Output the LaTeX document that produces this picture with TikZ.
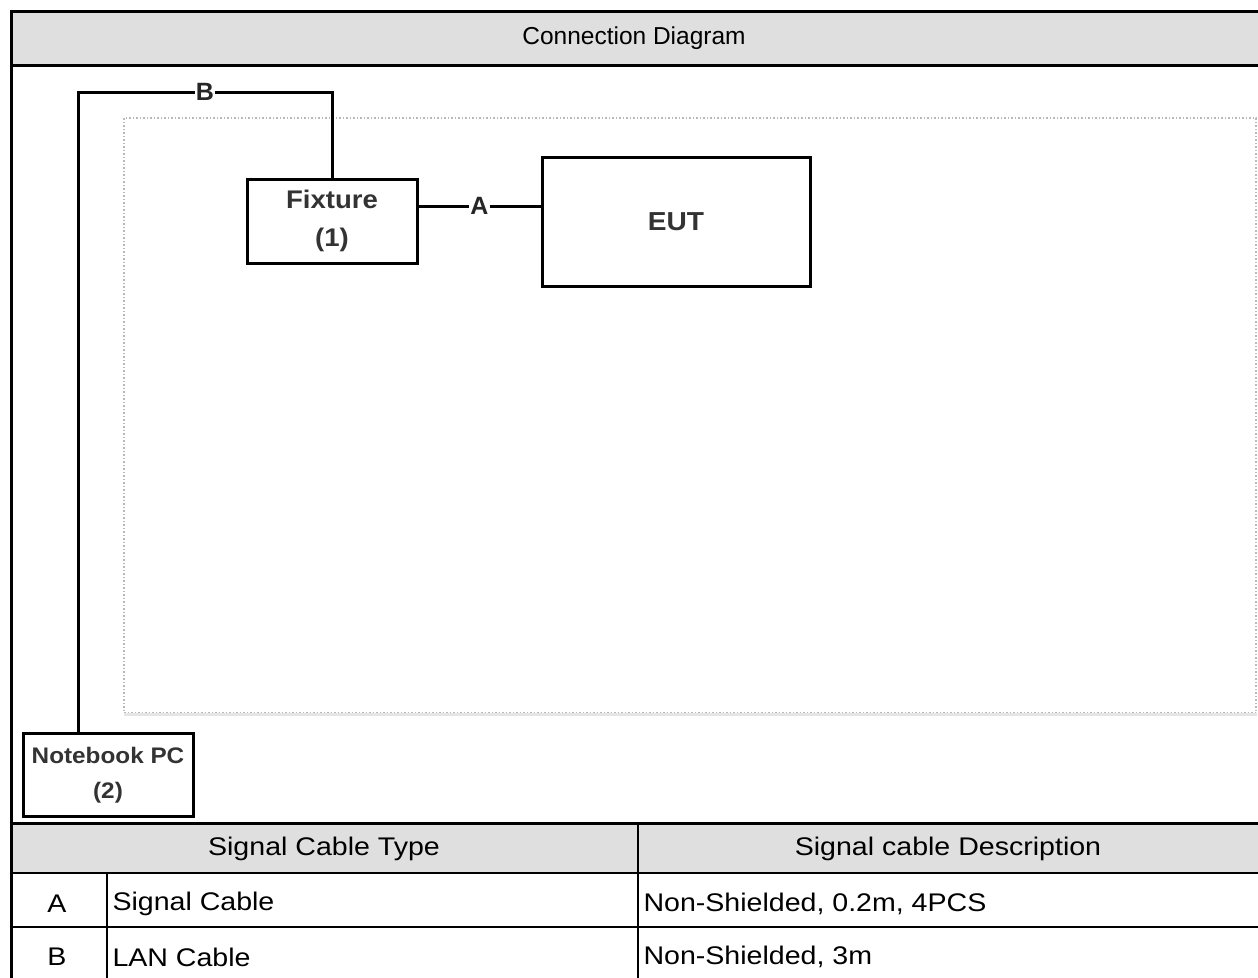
\documentclass[tikz,border=0pt]{standalone}
\usepackage{fontspec}
\setmainfont{Liberation Sans}
\newfontfamily\unitfont[FakeStretch=1.08]{Liberation Sans}
\newfontfamily\cellfont[FakeStretch=1.12]{Liberation Sans}
\definecolor{headgray}{HTML}{DFDFDF}
\begin{document}
\begin{tikzpicture}[x=1pt,y=-1pt,line width=3pt]
\tikzstyle{unit}=[draw, rectangle, fill=white, align=center, text=black!80, font=\unitfont\fontsize{25.5}{38}\selectfont\bfseries]
\tikzstyle{cable}=[fill=white, inner sep=1pt, text=black!85, font=\fontsize{25}{30}\selectfont\bfseries]
\tikzstyle{cell}=[inner sep=4pt, font=\cellfont\fontsize{25.5}{30}\selectfont]
\useasboundingbox (0,0) rectangle (1258,977);

% frame and shaded rows
\fill[headgray] (11,11) rectangle (1262,65);
\fill[headgray] (11,823) rectangle (1262,873);
\draw (1262,11) -- (11,11) -- (11,981);
\draw (11,65) -- (1262,65);
\draw (11,823) -- (1262,823);
\node[font=\fontsize{24.5}{29}\selectfont] (title) at (634,38) {Connection Diagram};

% test area
\draw[gray!55, dotted, line width=1.5pt] (124,118) rectangle (1256,713);
\draw[gray!20] (124,714) -- (1257,714);

\node[unit, minimum width=170, minimum height=84] (fixture) at (332,221) {Fixture\\(1)};
\node[unit, minimum width=268, minimum height=129] (eut) at (676,221.5) {\fontsize{26}{34}\selectfont EUT};
\node[unit, minimum width=170, minimum height=83, font=\unitfont\fontsize{22.5}{35}\selectfont\bfseries] (notebook) at (108,775) {Notebook PC\\(2)};

\coordinate (bcorner) at (78,92);
\draw (fixture.north) |- node[cable, pos=0.75] {B} (bcorner) -- (bcorner |- notebook.north);
\draw ([yshift=15pt]fixture.east) -- node[cable] {A} ([yshift=15pt]fixture.east -| eut.west);

% cable table
\draw[line width=2.5pt] (11,873) -- (1262,873);
\draw[line width=2.5pt] (11,927) -- (1262,927);
\draw[line width=2.5pt] (638,823) -- (638,981);
\draw[line width=2.5pt] (107,873) -- (107,981);
\node[cell] (typehead) at (324,849) {Signal Cable Type};
\node[cell] (deschead) at (948,849) {Signal cable Description};
\node[cell] (ida) at (57,904) {A};
\node[cell, anchor=west] (typea) at (107,904) {Signal Cable};
\node[cell, anchor=west] (desca) at (638,904) {Non-Shielded, 0.2m, 4PCS};
\node[cell] (idb) at (57,957) {B};
\node[cell, anchor=west] (typeb) at (107,957) {LAN Cable};
\node[cell, anchor=west] (descb) at (638,957) {Non-Shielded, 3m};
\end{tikzpicture}
\end{document}
